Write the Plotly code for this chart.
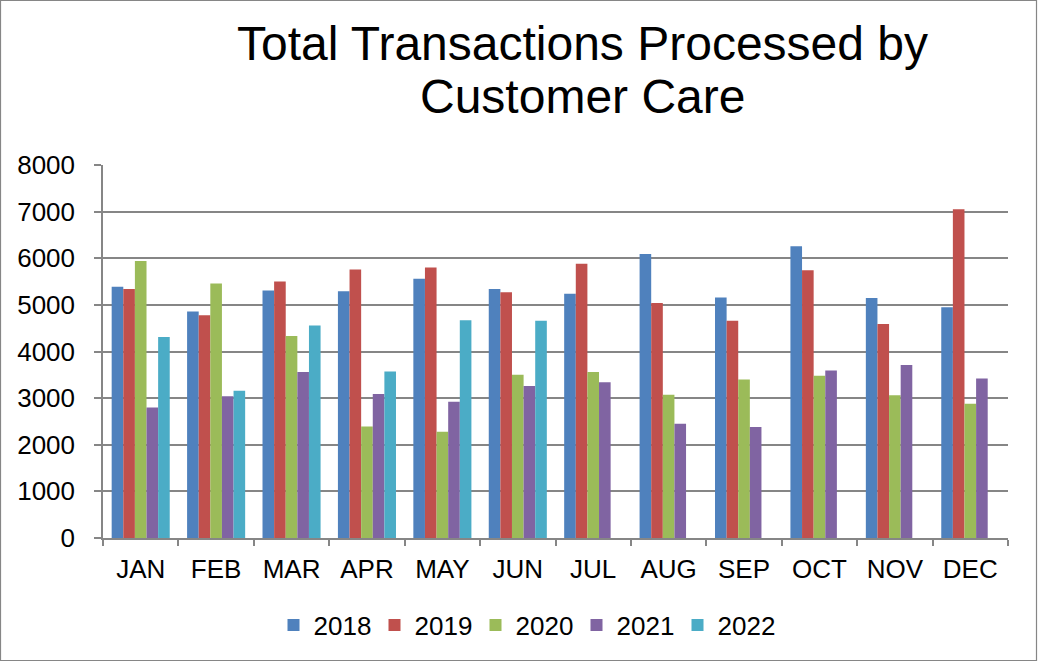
import plotly.graph_objects as go

months = ["JAN", "FEB", "MAR", "APR", "MAY", "JUN", "JUL", "AUG", "SEP", "OCT", "NOV", "DEC"]
years = ["2018", "2019", "2020", "2021", "2022"]
v2018 = [5390, 4860, 5310, 5290, 5560, 5340, 5240, 6090, 5160, 6260, 5150, 4950]
v2019 = [5340, 4780, 5500, 5760, 5800, 5270, 5880, 5040, 4660, 5740, 4590, 7050]
v2020 = [5940, 5460, 4330, 2390, 2280, 3500, 3560, 3070, 3400, 3480, 3060, 2880]
v2021 = [2800, 3040, 3560, 3090, 2920, 3260, 3340, 2450, 2380, 3590, 3710, 3420]
v2022 = [4310, 3160, 4560, 3570, 4670, 4660, None, None, None, None, None, None]
series = [v2018, v2019, v2020, v2021, v2022]
colors = ["#4F81BD", "#C0504D", "#9BBB59", "#8064A2", "#4BACC6"]
yticks = [0, 1000, 2000, 3000, 4000, 5000, 6000, 7000, 8000]

W, H = 1038, 662
ml, mr, mt, mb = 103, 30, 165, 124
FONT = "Liberation Sans, Arial, sans-serif"

fig = go.Figure()
for name, vals, col in zip(years, series, colors):
    fig.add_trace(go.Bar(x=months, y=vals, name=name, marker_color=col,
                         marker_line_width=0))

pw = W - ml - mr
ph = H - mt - mb
fig.add_shape(type="rect", xref="paper", yref="paper",
              x0=-(ml - 0.5) / pw, x1=1 + (mr - 1.5) / pw,
              y0=-(mb - 1.5) / ph, y1=1 + (mt - 0.5) / ph,
              line=dict(color="#868686", width=1.2), layer="below")

fig.add_annotation(text="Total Transactions Processed by", xref="paper", yref="paper",
                   x=(582 - ml) / pw, y=1 + (mt - 43) / ph, xanchor="center", yanchor="middle",
                   showarrow=False, font=dict(size=48, family=FONT, color="#000000"))
fig.add_annotation(text="Customer Care", xref="paper", yref="paper",
                   x=(582 - ml) / pw, y=1 + (mt - 96) / ph, xanchor="center", yanchor="middle",
                   showarrow=False, font=dict(size=48, family=FONT, color="#000000"))

fig.update_layout(
    width=W, height=H,
    margin=dict(l=ml, r=mr, t=mt, b=mb, autoexpand=False),
    paper_bgcolor="white", plot_bgcolor="white",
    barmode="group", bargap=0.23, bargroupgap=0,
    font=dict(family=FONT, size=26, color="#000000"),
    showlegend=True,
    legend=dict(orientation="h", xref="container", yref="container",
                x=526 / W, y=(H - 625) / H, xanchor="center", yanchor="middle",
                font=dict(size=26), itemwidth=30, traceorder="normal",
                entrywidth=56, entrywidthmode="pixels"),
)
fig.update_xaxes(type="category", showgrid=False, showline=True, linecolor="#868686",
                 linewidth=1.5, ticks="outside", tickson="boundaries", ticklen=6,
                 tickcolor="#868686", tickwidth=1.5, tickfont=dict(size=26),
                 ticklabelstandoff=7)
fig.update_yaxes(range=[0, 8000], tickvals=yticks, showgrid=True, gridcolor="#868686",
                 gridwidth=1.5, showline=True, linecolor="#868686", linewidth=1.5,
                 ticks="outside", ticklen=7, tickcolor="#868686", tickwidth=1.5,
                 zeroline=False, tickfont=dict(size=26), ticklabelstandoff=14)

fig.write_html("out.html", config={"displayModeBar": False},
               post_script="document.body.style.margin='0px';")
